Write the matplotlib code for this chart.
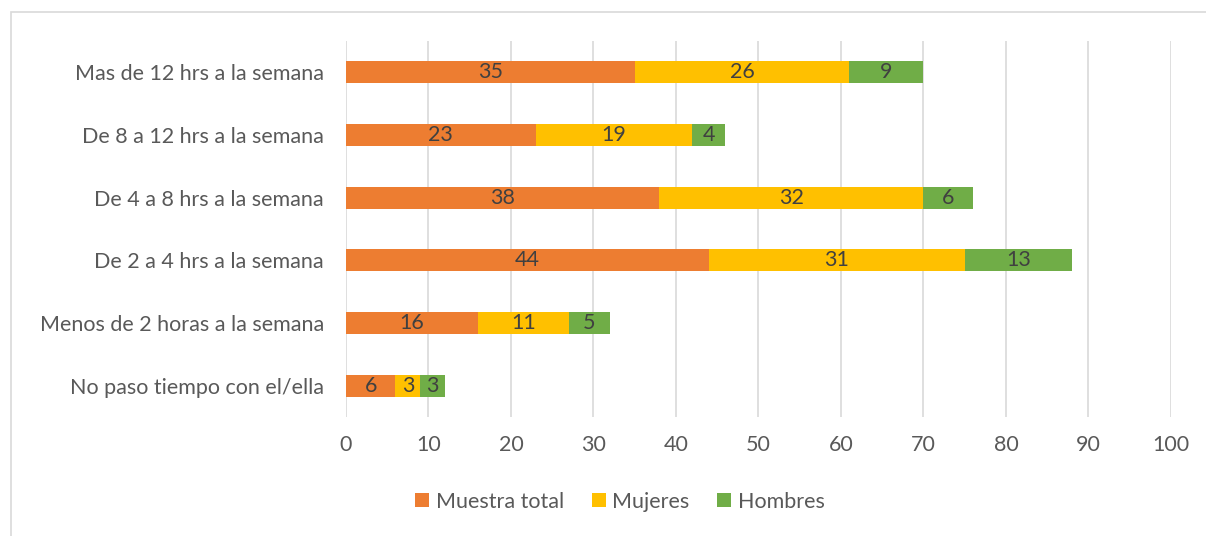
import matplotlib.pyplot as plt
from matplotlib.patches import Rectangle

categorias = ['No paso tiempo con el/ella', 'Menos de 2 horas a la semana',
              'De 2 a 4 hrs a la semana', 'De 4 a 8 hrs a la semana',
              'De 8 a 12 hrs a la semana', 'Mas de 12 hrs a la semana']
muestra_total = [6, 16, 44, 38, 23, 35]
mujeres = [3, 11, 31, 32, 19, 26]
hombres = [3, 5, 13, 6, 4, 9]
series = [('Muestra total', muestra_total, '#ED7D31'),
          ('Mujeres', mujeres, '#FFC000'),
          ('Hombres', hombres, '#70AD47')]

plt.rcParams['font.family'] = ['Lato', 'DejaVu Sans']
texto = '#595959'
fs = 15.5

fig = plt.figure(figsize=(12.06, 5.36), dpi=100)
fig.patches.append(Rectangle((11 / 1206, -0.1), 1.2, 1 - 12 / 536 + 0.1,
                             transform=fig.transFigure, fill=False,
                             edgecolor='#D9D9D9', linewidth=1.2))
ax = fig.add_axes([0.2869, 0.2213, 0.684, 0.703])

y = range(len(categorias))
left = [0] * len(categorias)
for nombre, vals, color in series:
    bars = ax.barh(y, vals, left=left, height=0.35, color=color, label=nombre, zorder=3)
    ax.bar_label(bars, labels=[str(v) for v in vals], label_type='center',
                 fontsize=fs, color='#404040')
    left = [a + b for a, b in zip(left, vals)]

ax.set_xlim(0, 100)
ax.set_ylim(-0.5, len(categorias) - 0.5)
ax.set_xticks(range(0, 101, 10))
ax.set_yticks(list(y))
ax.set_yticklabels(categorias)
ax.grid(axis='x', color='#D9D9D9', linewidth=1.2, zorder=0)
for s in ax.spines.values():
    s.set_visible(False)
ax.tick_params(length=0, labelsize=fs, colors=texto)
ax.tick_params(axis='x', pad=13)
ax.tick_params(axis='y', pad=16)

fig.legend(loc='center', bbox_to_anchor=(0.514, 0.064), ncol=3, frameon=False,
           fontsize=fs, labelcolor=texto, handlelength=0.65, handleheight=0.65,
           handletextpad=0.3, columnspacing=1.3)

fig.savefig('out.png', dpi=100)
